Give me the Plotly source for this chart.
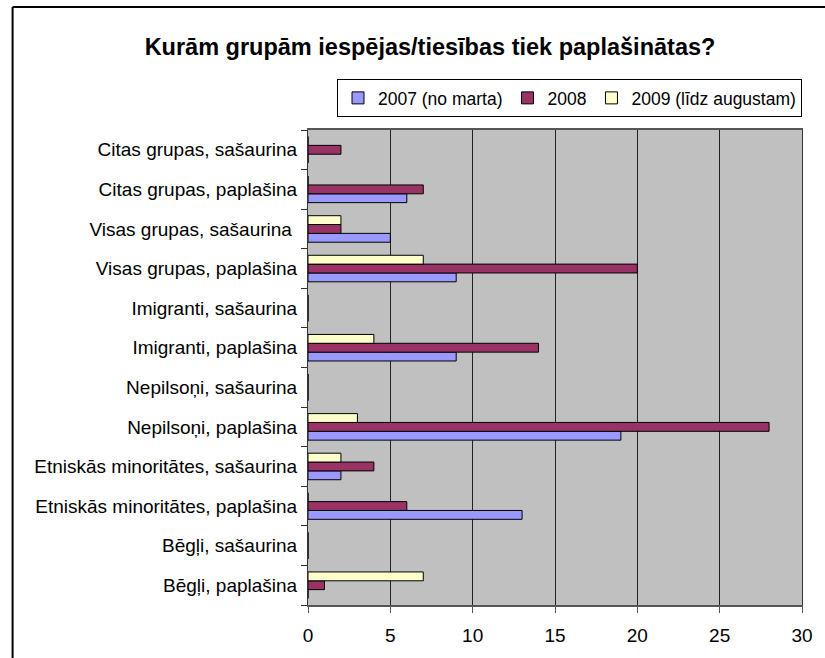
import plotly.graph_objects as go

categories = [
    "Bēgļi, paplašina",
    "Bēgļi, sašaurina",
    "Etniskās minoritātes, paplašina",
    "Etniskās minoritātes, sašaurina",
    "Nepilsoņi, paplašina",
    "Nepilsoņi, sašaurina",
    "Imigranti, paplašina",
    "Imigranti, sašaurina",
    "Visas grupas, paplašina",
    "Visas grupas, sašaurina ",
    "Citas grupas, paplašina",
    "Citas grupas, sašaurina",
]
series_names = ["2007 (no marta)", "2008", "2009 (līdz augustam)"]
v2007 = [0, 0, 13, 2, 19, 0, 9, 0, 9, 5, 6, 0]
v2008 = [1, 0, 6, 4, 28, 0, 14, 0, 20, 2, 7, 2]
v2009 = [7, 0, 0, 2, 3, 0, 4, 0, 7, 2, 0, 0]
colors = ["#9999FF", "#993366", "#FFFFCC"]
x_ticks = [0, 5, 10, 15, 20, 25, 30]

FONT = "Arial, Liberation Sans, sans-serif"
W, H = 825, 658
L, R, T, B = 308, 808, 130, 605   # plot-area edges in page pixels
PW, PH = R - L, B - T

fig = go.Figure()
for name, vals, col in zip(series_names, [v2007, v2008, v2009], colors):
    fig.add_trace(go.Bar(
        y=categories, x=vals, name=name, orientation="h",
        marker=dict(color=col, line=dict(color="black", width=1)),
    ))

fig.update_layout(
    width=W, height=H,
    barmode="group", bargap=0.33, bargroupgap=0,
    paper_bgcolor="white", plot_bgcolor="#C0C0C0",
    margin=dict(l=L, r=W - R, t=T, b=H - B, pad=0),
    font=dict(family=FONT, size=19, color="black"),
    title=dict(text="<b>Kurām grupām iespējas/tiesības tiek paplašinātas?</b>",
               x=430 / W, xanchor="center", y=1 - 47 / H, yanchor="middle",
               font=dict(family=FONT, size=23.5, color="black")),
    legend=dict(orientation="h", x=1, xanchor="right", y=1 + (T - 79) / PH, yanchor="top",
                bordercolor="black", borderwidth=1, bgcolor="white",
                font=dict(family=FONT, size=17.5), traceorder="normal",
                itemwidth=30),
    showlegend=True,
)

fig.update_xaxes(range=[0, 30], tickvals=x_ticks, ticktext=[str(t) for t in x_ticks],
                 showgrid=True, gridcolor="#222222", gridwidth=1,
                 zeroline=False, showline=True, linecolor="#555555", linewidth=2, mirror=True,
                 ticks="outside", ticklen=6, tickcolor="#555555", ticklabelstandoff=6,
                 tickfont=dict(family=FONT, size=19, color="black"), fixedrange=True)
fig.update_yaxes(categoryorder="array", categoryarray=categories,
                 showgrid=False, showline=True, linecolor="#333333", linewidth=1, mirror=True,
                 ticks="outside", ticklen=6, tickcolor="#333333", tickson="boundaries",
                 ticklabelstandoff=6,
                 tickfont=dict(family=FONT, size=19, color="black"), fixedrange=True)

# chart-area frame (left and top edges visible)
fx = (9 - L) / PW
fy = 1 + (T - 7) / PH
fig.add_shape(type="line", xref="paper", yref="paper",
              x0=fx, x1=fx, y0=-0.3, y1=fy, line=dict(color="black", width=2))
fig.add_shape(type="line", xref="paper", yref="paper",
              x0=fx, x1=1.1, y0=fy, y1=fy, line=dict(color="black", width=2))

fig.write_html("out.html", config={"displayModeBar": False},
               post_script="document.body.style.margin='0';document.body.style.overflow='hidden';")
